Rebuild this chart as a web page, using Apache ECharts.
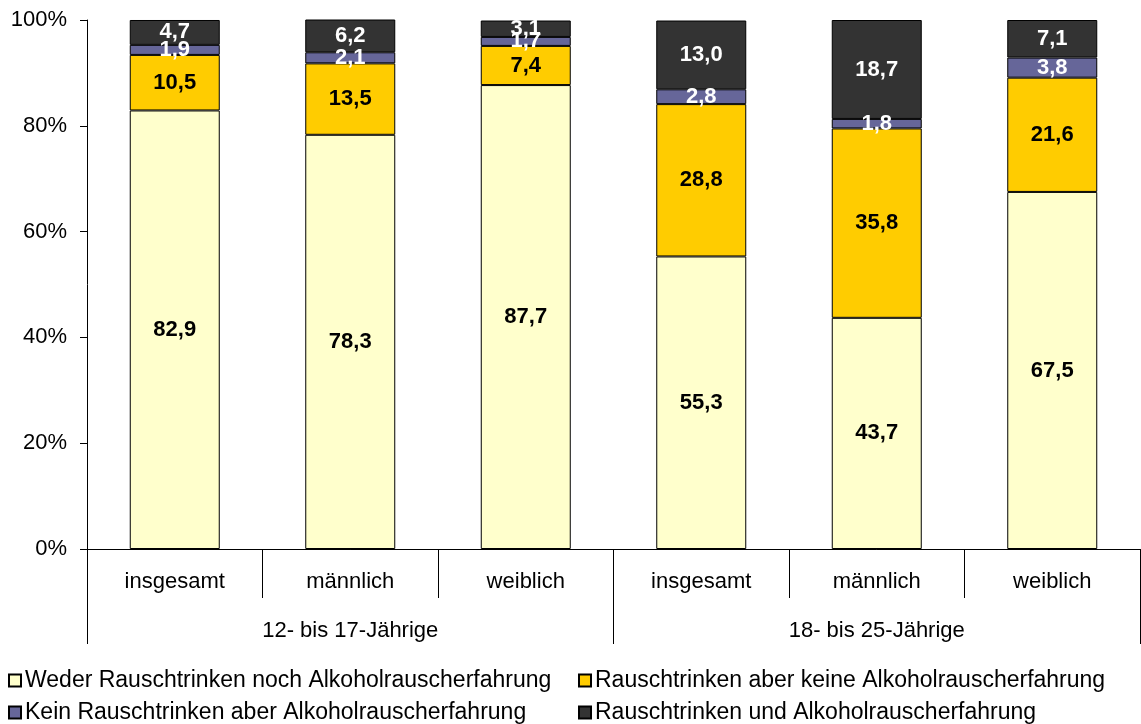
<!DOCTYPE html>
<html>
<head>
<meta charset="utf-8">
<script src="https://cdn.jsdelivr.net/npm/echarts@6/dist/echarts.min.js"></script>
<style>
  html, body { margin: 0; padding: 0; background: #fff; }
  .main { width: 1141px; height: 724px; }
</style>
</head>
<body>
<div class="main"></div>
<script>
let chartDom = document.querySelector('.main');
let myChart = echarts.init(chartDom);

// Kategorien
let categories = ['insgesamt', 'männlich', 'weiblich', 'insgesamt', 'männlich', 'weiblich'];
let groups = ['12- bis 17-Jährige', '18- bis 25-Jährige'];
let yTicks = [0, 20, 40, 60, 80, 100];

// Werte in Prozent
let weder = [82.9, 78.3, 87.7, 55.3, 43.7, 67.5];
let rauschNurTrinken = [10.5, 13.5, 7.4, 28.8, 35.8, 21.6];
let keinRauschAberErf = [1.9, 2.1, 1.7, 2.8, 1.8, 3.8];
let beides = [4.7, 6.2, 3.1, 13.0, 18.7, 7.1];

let names = [
    'Weder Rauschtrinken noch Alkoholrauscherfahrung',
    'Rauschtrinken aber keine Alkoholrauscherfahrung',
    'Kein Rauschtrinken aber Alkoholrauscherfahrung',
    'Rauschtrinken und Alkoholrauscherfahrung'
];
let colors = ['#FFFFCC', '#FFCC00', '#666699', '#333333'];
let labelColors = ['#000', '#000', '#fff', '#fff'];
let values = [weder, rauschNurTrinken, keinRauschAberErf, beides];

let font = 'Liberation Sans, Arial, sans-serif';

function makeSeries(i) {
    return {
        name: names[i],
        type: 'bar',
        stack: 'total',
        barWidth: 90,
        data: values[i],
        itemStyle: { color: colors[i], borderColor: '#000', borderWidth: 1 },
        label: {
            show: true,
            position: 'inside',
            color: labelColors[i],
            fontFamily: font,
            fontWeight: 'bold',
            fontSize: 22,
            formatter: p => p.value.toFixed(1).replace('.', ',')
        }
    };
}

// Legende: 2 Spalten x 2 Zeilen
let legendPos = [[8, 669], [578, 669], [8, 701], [578, 701]];
let legends = names.map((n, i) => ({
    left: legendPos[i][0],
    top: legendPos[i][1],
    itemWidth: 12,
    itemHeight: 12,
    itemGap: 0,
    icon: 'rect',
    padding: 0,
    textStyle: { fontFamily: font, fontSize: 23, color: '#000', padding: [0, 0, 0, -1] },
    data: [n]
}));

option = {
    backgroundColor: '#fff',
    animation: false,
    grid: { left: 87, top: 20, right: 1, bottom: 175 },
    legend: legends,
    xAxis: [
        {
            type: 'category',
            data: categories,
            axisLine: { lineStyle: { color: '#000', width: 1 } },
            axisTick: { show: true, interval: 0, length: 49, lineStyle: { color: '#000' } },
            axisLabel: { interval: 0, fontFamily: font, fontSize: 22, color: '#000', margin: 22 }
        },
        {
            type: 'category',
            position: 'bottom',
            offset: 49,
            data: groups,
            axisLine: { show: false },
            axisTick: { show: true, interval: 0, length: 46, lineStyle: { color: '#000' } },
            axisLabel: { interval: 0, fontFamily: font, fontSize: 22, color: '#000', margin: 22 }
        }
    ],
    yAxis: {
        type: 'value',
        min: yTicks[0],
        max: yTicks[yTicks.length - 1],
        interval: 20,
        splitLine: { show: false },
        axisLine: { show: true, lineStyle: { color: '#000' } },
        axisTick: { show: true, length: 7, lineStyle: { color: '#000' } },
        axisLabel: { fontFamily: font, fontSize: 22, color: '#000', margin: 20, formatter: '{value}%' }
    },
    series: [0, 1, 2, 3].map(makeSeries)
};

option && myChart.setOption(option);
</script>
</body>
</html>
